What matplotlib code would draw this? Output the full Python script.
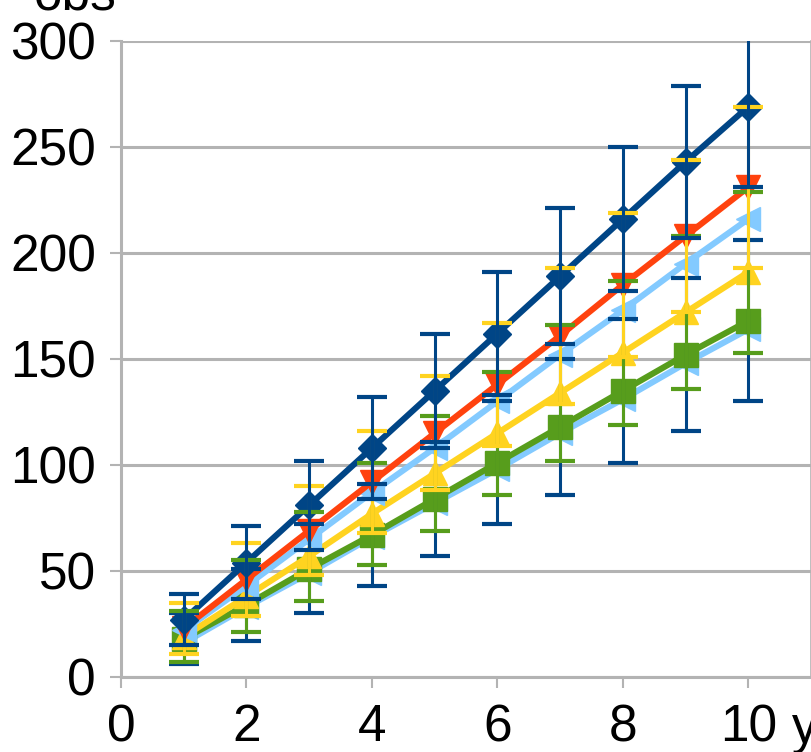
"""
Observed counts per year for six groups, with error bars.
"""

import matplotlib.pyplot as plt
import numpy as np

# years on the x axis
years = [1, 2, 3, 4, 5, 6, 7, 8, 9, 10]

# observed values for each group
obs_navy = [27, 54, 81, 108, 135, 162, 189, 216, 243, 269]
obs_red = [23, 46, 69, 92, 115, 138, 161, 185, 208, 231]
obs_sky = [22, 43, 65, 87, 108, 130, 152, 173, 195, 216]
obs_yellow = [19, 38, 57, 77, 96, 115, 134, 153, 172, 191]
obs_green = [18, 34, 51, 67, 84, 101, 118, 135, 152, 168]
obs_sky2 = [16, 33, 49, 66, 82, 98, 115, 131, 148, 164]

# half-width of the error bars for each year
err = [12, 17, 21, 24, 27, 29, 32, 34, 36, 38]

x_ticks = [0, 2, 4, 6, 8, 10]
y_ticks = [0, 50, 100, 150, 200, 250, 300]

NAVY = "#004586"
RED = "#ff420e"
YELLOW = "#ffd320"
GREEN = "#579d1c"
SKY = "#83caff"
GRID = "#b3b3b3"


def main():
    plt.rcParams["font.family"] = ["Liberation Sans", "DejaVu Sans"]

    fig = plt.figure(figsize=(8.12, 7.52), dpi=100)
    ax = fig.add_axes([121 / 812, 75 / 752, 690 / 812, 636 / 752])

    # lines with markers, later ones on top
    series = [
        (obs_sky2, SKY, "<", 2),
        (obs_green, GREEN, "s", 3),
        (obs_yellow, YELLOW, "^", 4),
        (obs_sky, SKY, "<", 5),
        (obs_red, RED, "v", 6),
        (obs_navy, NAVY, "D", 7),
    ]
    for values, color, marker, z in series:
        ms = 14 if marker == "D" else 17
        ax.plot(years, values, color=color, lw=4.4, marker=marker, ms=ms,
                mec=color, mfc=color, zorder=z, clip_on=False)

    # error bars sit above the lines
    bars = [
        (obs_green, NAVY, 10),
        (obs_yellow, GREEN, 11),
        (obs_red, YELLOW, 12),
        (obs_navy, NAVY, 13),
    ]
    for values, color, z in bars:
        eb = ax.errorbar(years, values, yerr=err, fmt="none", ecolor=color,
                         elinewidth=2.2, capsize=11, capthick=3.0, zorder=z)
        for part in eb.lines[1] + eb.lines[2]:
            part.set_zorder(z)

    ax.set_xlim(0, 11)
    ax.set_ylim(0, 300)
    ax.set_xticks(x_ticks)
    ax.set_yticks(y_ticks)
    ax.tick_params(axis="both", labelsize=37, color=GRID, width=1.5,
                   length=8, direction="out")
    ax.tick_params(axis="y", pad=10)
    ax.tick_params(axis="x", pad=11)

    ax.grid(axis="y", color=GRID, lw=2.2, zorder=0)
    ax.set_axisbelow(True)
    for side in ("left", "bottom"):
        ax.spines[side].set_color(GRID)
        ax.spines[side].set_linewidth(2.2)
    ax.spines["right"].set_color(GRID)
    ax.spines["right"].set_linewidth(1.2)
    ax.spines["top"].set_visible(False)

    # axis titles at the corners
    fig.text(75 / 812, 1 - 10 / 752, "obs", fontsize=37, ha="center",
             va="baseline")
    fig.text(792 / 812, 9 / 752, "y", fontsize=37, ha="left", va="baseline")

    fig.savefig("out.png", dpi=100)


if __name__ == "__main__":
    main()
